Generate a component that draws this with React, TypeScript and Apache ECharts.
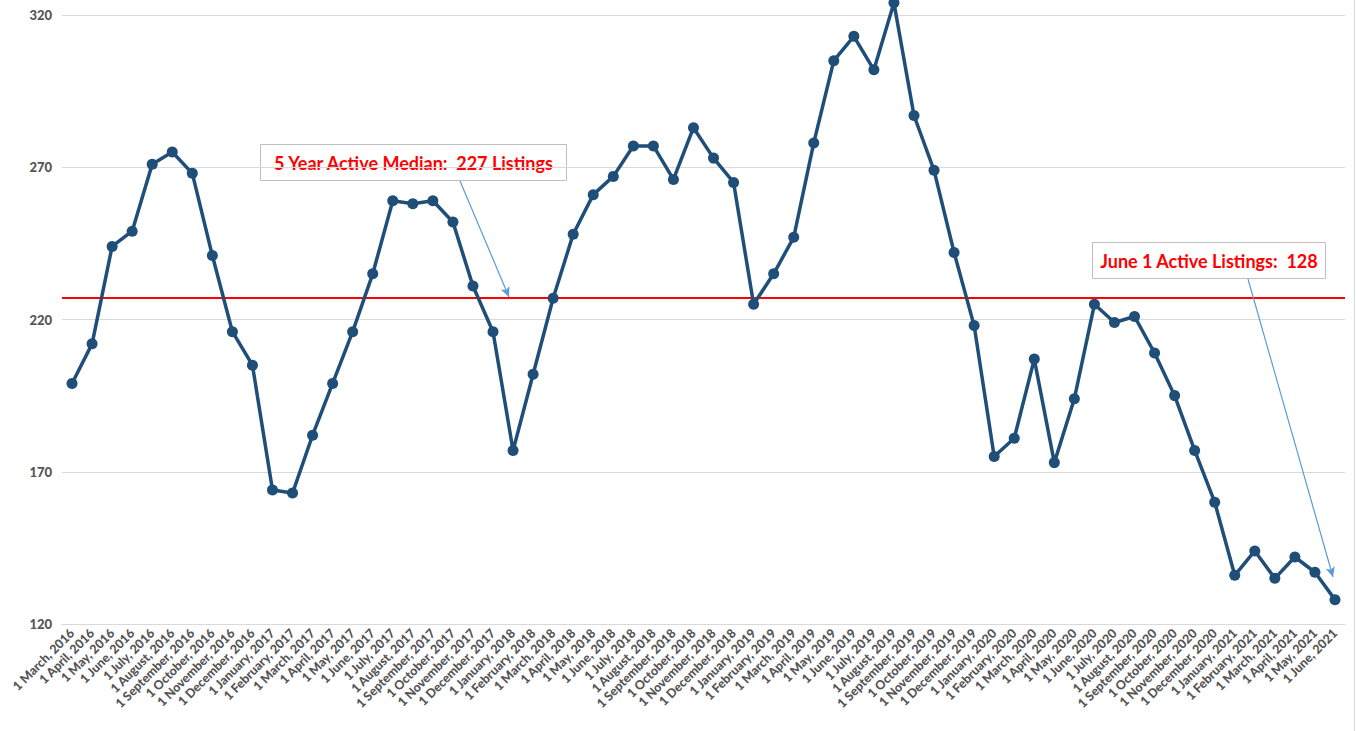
import React, { useEffect, useRef } from "react";
import * as echarts from "echarts";

const categories: string[] = [
  "1 March, 2016", "1 April, 2016", "1 May, 2016", "1 June, 2016", "1 July, 2016", "1 August, 2016",
  "1 September, 2016", "1 October, 2016", "1 November, 2016", "1 December, 2016", "1 January, 2017", "1 February, 2017",
  "1 March, 2017", "1 April, 2017", "1 May, 2017", "1 June, 2017", "1 July, 2017", "1 August, 2017",
  "1 September, 2017", "1 October, 2017", "1 November, 2017", "1 December, 2017", "1 January, 2018", "1 February, 2018",
  "1 March, 2018", "1 April, 2018", "1 May, 2018", "1 June, 2018", "1 July, 2018", "1 August, 2018",
  "1 September, 2018", "1 October, 2018", "1 November, 2018", "1 December, 2018", "1 January, 2019", "1 February, 2019",
  "1 March, 2019", "1 April, 2019", "1 May, 2019", "1 June, 2019", "1 July, 2019", "1 August, 2019",
  "1 September, 2019", "1 October, 2019", "1 November, 2019", "1 December, 2019", "1 January, 2020", "1 February, 2020",
  "1 March, 2020", "1 April, 2020", "1 May, 2020", "1 June, 2020", "1 July, 2020", "1 August, 2020",
  "1 September, 2020", "1 October, 2020", "1 November, 2020", "1 December, 2020", "1 January, 2021", "1 February, 2021",
  "1 March, 2021", "1 April, 2021", "1 May, 2021", "1 June, 2021",
];

const activeListings: number[] = [
  199, 212, 244, 249, 271, 275, 268, 241, 216, 205, 164, 163,
  182, 199, 216, 235, 259, 258, 259, 252, 231, 216, 177, 202,
  227, 248, 261, 267, 277, 277, 266, 283, 273, 265, 225, 235,
  247, 278, 305, 313, 302, 324, 287, 269, 242, 218, 175, 181,
  207, 173, 194, 225, 219, 221, 209, 195, 177, 160, 136, 144,
  135, 142, 137, 128,
];

const medianValue = 227;
const yTicks = [120, 170, 220, 270, 320];
const medianLabel = "5 Year Active Median:  227 Listings";
const juneLabel = "June 1 Active Listings:  128";

export default function App() {
  const ref = useRef<HTMLDivElement>(null);

  useEffect(() => {
    if (!ref.current) return;
    const chart = echarts.init(ref.current, undefined, { renderer: "svg" });
    const font = "Lato, 'Noto Sans', sans-serif";
    const arrowStyle = { color: "#5B9BD5", width: 1.2, type: "solid" as const };
    chart.setOption({
      animation: false,
      backgroundColor: "#ffffff",
      grid: { left: 62, right: 11, top: 15, bottom: 107, containLabel: false },
      xAxis: {
        type: "category",
        data: categories,
        boundaryGap: true,
        axisLine: { show: true, lineStyle: { color: "#d9d9d9", width: 1 } },
        axisTick: { show: false },
        axisLabel: {
          interval: 0,
          rotate: 45,
          margin: 7,
          color: "#555555",
          fontFamily: font,
          fontWeight: 900,
          fontSize: 12.5,
        },
      },
      yAxis: {
        type: "value",
        min: yTicks[0],
        max: yTicks[yTicks.length - 1],
        interval: 50,
        axisLine: { show: false },
        axisTick: { show: false },
        splitLine: { lineStyle: { color: "#d9d9d9", width: 1 } },
        axisLabel: {
          margin: 10,
          color: "#555555",
          fontFamily: font,
          fontWeight: 900,
          fontSize: 13,
        },
      },
      series: [
        {
          type: "line",
          data: activeListings,
          clip: false,
          symbol: "circle",
          symbolSize: 11,
          lineStyle: { color: "#1F4E79", width: 3.5 },
          itemStyle: { color: "#1F4E79" },
          z: 3,
          markLine: {
            silent: true,
            symbol: ["none", "none"],
            label: { show: false },
            z: 2,
            data: [
              { yAxis: medianValue, lineStyle: { color: "#FF0000", width: 2, type: "solid" } },
              [
                { x: 460, y: 181, lineStyle: arrowStyle },
                { x: 509, y: 297, symbol: "arrow", symbolSize: [7, 10] },
              ],
              [
                { x: 1248, y: 279, lineStyle: arrowStyle },
                { x: 1333, y: 577, symbol: "arrow", symbolSize: [7, 10] },
              ],
            ],
          },
        },
      ],
      graphic: [
        {
          type: "line",
          shape: { x1: 1354.5, y1: 0, x2: 1354.5, y2: 731 },
          style: { stroke: "#d9d9d9", lineWidth: 1 },
          silent: true,
        },
        {
          type: "group",
          left: 260,
          top: 144,
          z: 10,
          children: [
            {
              type: "rect",
              shape: { x: 0, y: 0, width: 306, height: 36 },
              style: { fill: "#ffffff", stroke: "#bfbfbf", lineWidth: 1 },
            },
            {
              type: "text",
              x: 153,
              y: 18,
              style: {
                text: medianLabel,
                fill: "#FF0000",
                font: `bold 18px ${font}`,
                align: "center",
                verticalAlign: "middle",
              },
            },
          ],
        },
        {
          type: "group",
          left: 1092,
          top: 242,
          z: 10,
          children: [
            {
              type: "rect",
              shape: { x: 0, y: 0, width: 233, height: 36 },
              style: { fill: "#ffffff", stroke: "#bfbfbf", lineWidth: 1 },
            },
            {
              type: "text",
              x: 116.5,
              y: 18,
              style: {
                text: juneLabel,
                fill: "#FF0000",
                font: `bold 18px ${font}`,
                align: "center",
                verticalAlign: "middle",
              },
            },
          ],
        },
      ],
    });
    return () => chart.dispose();
  }, []);

  return (
    <div
      ref={ref}
      style={{ position: "absolute", left: 0, top: 0, width: 1356, height: 731 }}
    />
  );
}
